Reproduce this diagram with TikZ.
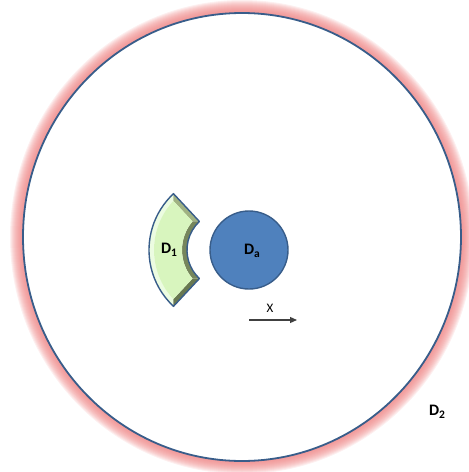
\documentclass[tikz,border=0pt]{standalone}
\usepackage{fontspec}
\setmainfont{Carlito}
\usetikzlibrary{arrows.meta}
\definecolor{glowc}{RGB}{238,130,130}
\definecolor{edgeblue}{RGB}{56,93,138}
\definecolor{dablue}{RGB}{79,129,189}
\definecolor{faceg}{RGB}{216,245,190}
\definecolor{lightg}{RGB}{236,252,225}
\definecolor{midg}{RGB}{160,178,130}
\definecolor{darkg}{RGB}{118,134,92}
\definecolor{darkerg}{RGB}{104,120,80}
\newcommand\lowsub[1]{\raisebox{-0.35ex}{\fontsize{11.5}{12}\selectfont #1}}
\tikzset{
  lab/.style={font=\fontsize{16}{19}\selectfont\bfseries, inner sep=0pt},
  edgeline/.style={draw=edgeblue, line width=1.4pt},
}
\begin{document}
\begin{tikzpicture}[x=1pt,y=-1pt]
\useasboundingbox (0,0) rectangle (469,472);
% glow of the big region
\foreach \w in {1,...,13}
  \draw[glowc, opacity=0.12, line width=2*\w] (242,237) ellipse [x radius=219, y radius=224];
\fill[white] (242,237) ellipse [x radius=219, y radius=224];
\draw[edgeblue, line width=1.8pt] (242,237) ellipse [x radius=219, y radius=224];
% D1 block arc with bevel
\begin{scope}[shift={(226,250)}, yscale=-1]
  \fill[lightg] (133:77) arc[start angle=133, end angle=227, radius=77]
     -- (223.02:72) arc[start angle=223.02, end angle=136.98, radius=72] -- cycle;
  \fill[midg] (133:77) -- (133:39) -- (139.52:44) -- (136.98:72) -- cycle;
  \fill[darkg] (133:39) arc[start angle=133, end angle=227, radius=39]
     -- (220.48:44) arc[start angle=220.48, end angle=139.52, radius=44] -- cycle;
  \fill[darkerg] (227:77) -- (227:39) -- (220.48:44) -- (223.02:72) -- cycle;
  \fill[faceg] (136.98:72) arc[start angle=136.98, end angle=223.02, radius=72]
     -- (220.48:44) arc[start angle=220.48, end angle=139.52, radius=44] -- cycle;
  \draw[edgeline, line join=round] (133:77) arc[start angle=133, end angle=227, radius=77]
     -- (227:39) arc[start angle=227, end angle=133, radius=39] -- cycle;
\end{scope}
\node[lab] (d1) at (169,250) {D\lowsub{1}};
% Da
\node[circle, minimum size=78pt, fill=dablue, edgeline, inner sep=0pt] (da) at (249,250) {};
\node[lab] (dalab) at (252,251) {D\lowsub{a}};
% X arrow
\coordinate (xs) at (249,320);
\coordinate (xe) at (297,320);
\draw[line width=1.2pt, black!75, -{Triangle[length=7pt,width=6pt]}] (xs) -- (xe);
\node[font=\fontsize{13}{15}\selectfont, inner sep=0pt] (xlab) at (270,308) {X};
% D2
\node[lab] (d2) at (437,412) {D\lowsub{2}};
\end{tikzpicture}
\end{document}
